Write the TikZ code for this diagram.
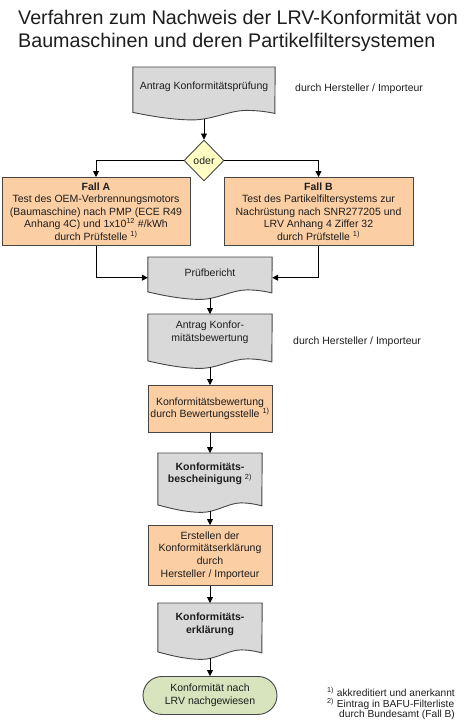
\documentclass[tikz,border=0pt]{standalone}
\usepackage{fontspec}
\setmainfont{Liberation Sans}
\usetikzlibrary{arrows.meta,shapes.geometric,calc}
\definecolor{docgray}{RGB}{217,217,217}
\definecolor{boxorange}{RGB}{251,206,163}
\definecolor{termgreen}{RGB}{215,228,189}
\definecolor{decyellow}{RGB}{255,255,196}
\definecolor{edge}{RGB}{70,70,70}
\definecolor{txt}{RGB}{30,30,30}
\tikzset{
  bodyfont/.style={font=\fontsize{10.5}{12.6}\selectfont},
  fnfont/.style={font=\fontsize{10.2}{10.5}\selectfont},
  titlefont/.style={font=\fontsize{19.7}{23}\selectfont},
  shapeline/.style={draw=edge, line width=0.9pt},
  docnode/.style={rectangle, inner sep=0pt, anchor=north},
  procbox/.style={shapeline, fill=boxorange, rectangle, inner sep=0pt, align=center, bodyfont, text=txt},
  txtnode/.style={align=center, bodyfont, text=txt, inner sep=0pt},
  conn/.style={draw=black, line width=0.8pt, -{Triangle[length=6pt,width=6pt]}},
}
\newcommand\docwave[2]{%
  \begin{scope}[shift={(#1.south west)}]
    \draw[shapeline, fill=docgray] (#1.north west) -- (#1.north east) -- (#2,-5.5)
      .. controls ({0.95*#2},-7) and ({0.88*#2},-8.5) .. ({0.8*#2},-8.5)
      .. controls ({0.68*#2},-8.5) and ({0.56*#2},1) .. ({0.42*#2},1)
      .. controls ({0.28*#2},1) and ({0.12*#2},-3) .. (0,-6.5) -- cycle;
  \end{scope}}
\begin{document}
\begin{tikzpicture}[x=1pt,y=-1pt]
\useasboundingbox (0,0) rectangle (464,725);
\fill[white] (0,0) rectangle (464,725);

% title
\node[anchor=base west, inner sep=0pt, titlefont, text=txt] (title1) at (18,25) {Verfahren zum Nachweis der LRV-Konformität von};
\node[anchor=base west, inner sep=0pt, titlefont, text=txt] (title2) at (18,48) {Baumaschinen und deren Partikelfiltersystemen};

% document shapes
\node[docnode, minimum width=142, minimum height=51.5] (antrag) at (204,67) {};
\node[docnode, minimum width=124, minimum height=41] (pruef) at (210,257) {};
\node[docnode, minimum width=124, minimum height=53] (antragKB) at (210,314) {};
\node[docnode, minimum width=104, minimum height=58] (besch) at (210,453) {};
\node[docnode, minimum width=104, minimum height=55] (erkl) at (210,603) {};
\docwave{antrag}{142}
\docwave{pruef}{124}
\docwave{antragKB}{124}
\docwave{besch}{104}
\docwave{erkl}{104}

\node[txtnode] (antragT) at (204,87) {Antrag Konformitätsprüfung};
\node[txtnode] (pruefT) at (210,273) {Prüfbericht};
\node[txtnode] (antragKBT) at (210,332) {Antrag Konfor-\\mitätsbewertung};
\node[txtnode] (beschT) at (210,474) {\textbf{Konformitäts-}\\\textbf{bescheinigung} \textsuperscript{2)}};
\node[txtnode] (erklT) at (210,624) {\textbf{Konformitäts-}\\\textbf{erklärung}};

% decision
\node[diamond, shapeline, fill=decyellow, minimum width=40, minimum height=41, inner sep=0pt, bodyfont, text=txt] (oder) at (204,160.5) {oder};

% process boxes
\node[procbox, minimum width=188, minimum height=68, anchor=north] (fallA) at (96,177)
  {\textbf{Fall A}\\Test des OEM-Verbrennungsmotors\\(Baumaschine) nach PMP (ECE R49\\Anhang 4C) und 1x10\textsuperscript{12} \#/kWh\\durch Prüfstelle \textsuperscript{1)}};
\node[procbox, minimum width=189, minimum height=68, anchor=north] (fallB) at (318.5,177)
  {\textbf{Fall B}\\Test des Partikelfiltersystems zur\\Nachrüstung nach SNR277205 und\\LRV Anhang 4 Ziffer 32\\durch Prüfstelle \textsuperscript{1)}};
\node[procbox, minimum width=124, minimum height=47, anchor=north] (bew) at (210,385)
  {Konformitätsbewertung\\durch Bewertungsstelle \textsuperscript{1)}};
\node[procbox, minimum width=124, minimum height=60, anchor=north] (erst) at (210,525)
  {Erstellen der\\Konformitätserklärung\\durch\\Hersteller / Importeur};
\node[shapeline, fill=termgreen, rounded corners=19pt, minimum width=134, minimum height=38, anchor=north, txtnode] (ende) at (210,676)
  {Konformität nach\\LRV nachgewiesen};

% side texts
\node[txtnode, anchor=west] (who1) at (295,89) {durch Hersteller / Importeur};
\node[txtnode, anchor=west] (who2) at (293,342) {durch Hersteller / Importeur};

% footnotes
\node[anchor=base west, inner sep=0pt, fnfont, text=txt] (fn1) at (327,696.5) {\textsuperscript{1)} akkreditiert und anerkannt};
\node[anchor=base west, inner sep=0pt, fnfont, text=txt] (fn2) at (327,707) {\textsuperscript{2)} Eintrag in BAFU-Filterliste};
\node[anchor=base west, inner sep=0pt, fnfont, text=txt] (fn3) at (339,717.5) {durch Bundesamt (Fall B)};

% connectors
\draw[conn] (antrag.south) -- (oder.north);
\draw[conn] (oder.west) -| (fallA.north);
\draw[conn] (oder.east) -| (fallB.north);
\draw[conn] (fallA.south) |- (pruef.west);
\draw[conn] (fallB.south) |- (pruef.east);
\draw[conn] (pruef.south) -- (antragKB.north);
\draw[conn] (antragKB.south) -- (bew.north);
\draw[conn] (bew.south) -- (besch.north);
\draw[conn] (besch.south) -- (erst.north);
\draw[conn] (erst.south) -- (erkl.north);
\draw[conn] (erkl.south) -- (ende.north);
\end{tikzpicture}
\end{document}
